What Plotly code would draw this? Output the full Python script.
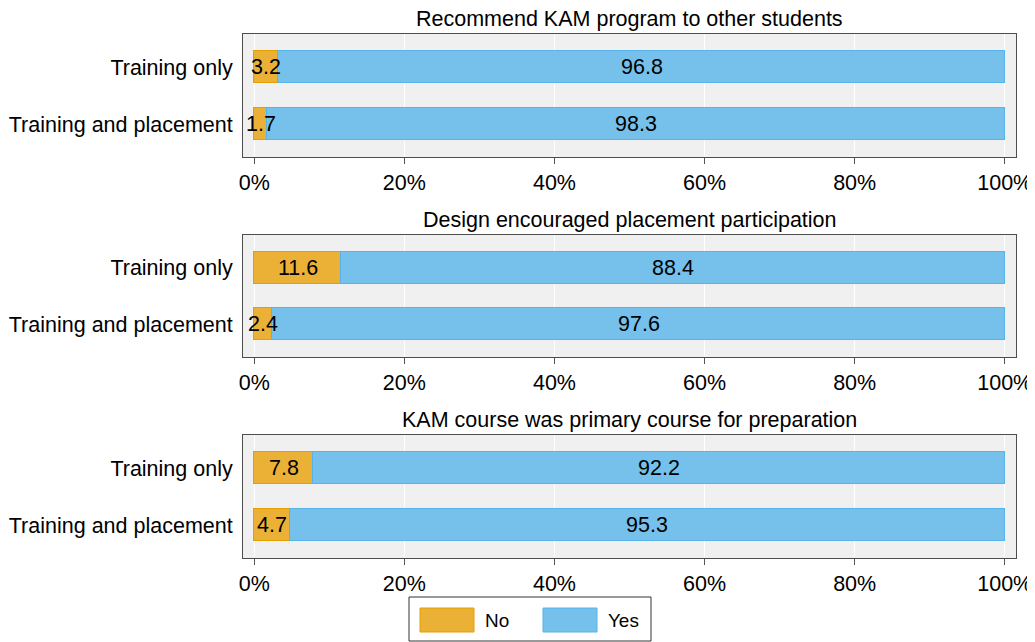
import plotly.graph_objects as go

# data
panels = [
    "Recommend KAM program to other students",
    "Design encouraged placement participation",
    "KAM course was primary course for preparation",
]
groups = ["Training only", "Training and placement"]
no_vals = [[3.2, 1.7], [11.6, 2.4], [7.8, 4.7]]
yes_vals = [[96.8, 98.3], [88.4, 97.6], [92.2, 95.3]]
x_ticks = [0, 20, 40, 60, 80, 100]
x_ticktext = ["0%", "20%", "40%", "60%", "80%", "100%"]

# the page puts the figure 8px in from the top-left corner
OFF = 8
W, H = 1035 - OFF, 642 - OFF
L, R, T, B = 243 - OFF, 1016 - OFF, 34 - OFF, 558 - OFF   # plot area, figure px

def px_x(px):
    return (px - OFF - L) / (R - L)

def px_y(py):
    return (B - (py - OFF)) / (B - T)

panel_px = [(34, 157), (235, 357), (435, 558)]   # screen px

FONT = "Liberation Sans, Arial, Helvetica, sans-serif"
FS = 21.5
TXT = "#000"
ORANGE, ORANGE_LINE = "#EBB136", "#E69F00"
BLUE, BLUE_LINE = "#75C1EC", "#56B4E9"

fig = go.Figure()
annotations = []

for i, title in enumerate(panels):
    sfx = "" if i == 0 else str(i + 1)
    xa, ya = "x" + sfx, "y" + sfx
    fig.add_trace(go.Bar(
        y=groups, x=no_vals[i], orientation="h", name="No",
        marker=dict(color=ORANGE, line=dict(color=ORANGE_LINE, width=1)),
        width=0.56, xaxis=xa, yaxis=ya, showlegend=False, hoverinfo="x+y"))
    fig.add_trace(go.Bar(
        y=groups, x=yes_vals[i], orientation="h", name="Yes",
        marker=dict(color=BLUE, line=dict(color=BLUE_LINE, width=1)),
        width=0.56, xaxis=xa, yaxis=ya, showlegend=False, hoverinfo="x+y"))

    # value labels centred in each segment
    for g, grp in enumerate(groups):
        n, y = no_vals[i][g], yes_vals[i][g]
        annotations.append(dict(x=n / 2, y=grp, xref=xa, yref=ya, text=f"{n:.1f}",
                                showarrow=False, font=dict(size=FS, color=TXT)))
        annotations.append(dict(x=n + y / 2, y=grp, xref=xa, yref=ya, text=f"{y:.1f}",
                                showarrow=False, font=dict(size=FS, color=TXT)))

    top, bot = panel_px[i]
    dom = [px_y(bot), px_y(top)]
    annotations.append(dict(x=0.5, y=dom[1], xref="paper", yref="paper", text=title,
                            showarrow=False, yanchor="middle", yshift=15,
                            font=dict(size=FS, color=TXT)))

    fig.layout["xaxis" + sfx] = dict(
        domain=[0, 1], anchor=ya, range=[-1.5, 101.5], automargin=False,
        tickvals=x_ticks, ticktext=x_ticktext, ticks="outside", ticklen=6,
        tickcolor="#555", showgrid=True, gridcolor="white", gridwidth=1,
        zeroline=False, showline=True, linecolor="#4d4d4d", mirror=True,
        tickfont=dict(size=FS, color=TXT), fixedrange=True)
    fig.layout["yaxis" + sfx] = dict(
        domain=dom, anchor=xa, range=[1.58, -0.58], type="category",
        automargin=False, showgrid=False, zeroline=False, showline=True,
        linecolor="#4d4d4d", mirror=True, ticks="", tickfont=dict(size=FS, color=TXT),
        ticklabelstandoff=5, fixedrange=True)

# legend drawn by hand: box with wide swatches
shapes = [
    dict(type="rect", xref="paper", yref="paper", x0=px_x(409), x1=px_x(651),
         y0=px_y(641), y1=px_y(597), line=dict(color="#333", width=1),
         fillcolor="white"),
    dict(type="rect", xref="paper", yref="paper", x0=px_x(420), x1=px_x(474),
         y0=px_y(632), y1=px_y(608), line=dict(color=ORANGE_LINE, width=1),
         fillcolor=ORANGE),
    dict(type="rect", xref="paper", yref="paper", x0=px_x(543), x1=px_x(597),
         y0=px_y(632), y1=px_y(608), line=dict(color=BLUE_LINE, width=1),
         fillcolor=BLUE),
]
for label, px in [("No", 483), ("Yes", 606)]:
    annotations.append(dict(x=px_x(px), y=px_y(620), xref="paper", yref="paper",
                            text=label, showarrow=False, xanchor="left",
                            yanchor="middle", font=dict(size=FS * 0.88, color=TXT)))

fig.update_layout(
    width=W, height=H, barmode="stack", bargap=0,
    margin=dict(l=L, r=W - R, t=T, b=H - B, autoexpand=False),
    paper_bgcolor="white", plot_bgcolor="#F0F0F0",
    font=dict(family=FONT, size=FS, color=TXT),
    showlegend=False, annotations=annotations, shapes=shapes,
)

fig.write_html("out.html")
